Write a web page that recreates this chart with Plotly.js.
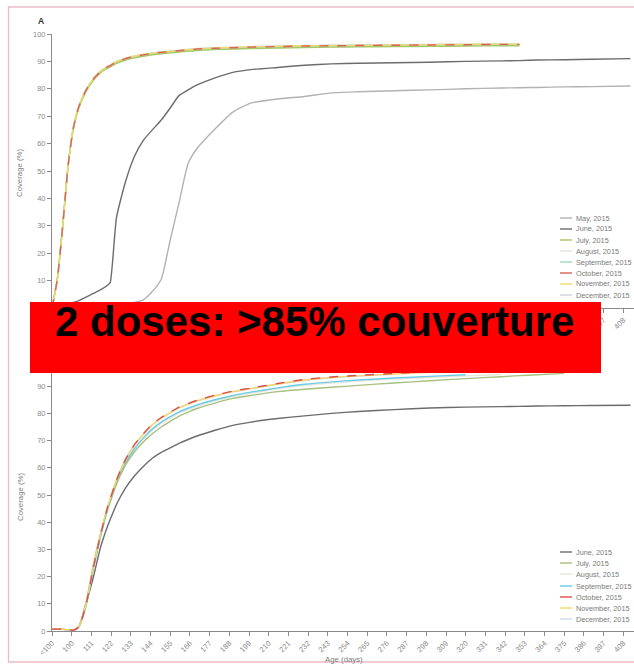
<!DOCTYPE html>
<html>
<head>
<meta charset="utf-8">
<script src="https://cdn.plot.ly/plotly-3.0.1.min.js"></script>
<style>html,body{margin:0;padding:0;background:#fff;}#chart{width:634px;height:666px;}</style>
</head>
<body>
<div id="chart"></div>
<script>
// ---------------- DATA ----------------
var ages = [89, 92, 95, 98, 101, 104, 108, 112, 116, 120, 121.5, 125, 130, 135, 140, 145, 150, 155, 160, 165, 170, 180, 190, 200, 215, 230, 245, 260, 280, 300, 320, 340, 350, 360, 375, 390, 412];

var ageTickVals = [89,100,111,122,133,144,155,166,177,188,199,210,221,232,243,254,265,276,287,298,309,320,331,342,353,364,375,386,397,408];
var ageTickText = ["<100","100","111","122","133","144","155","166","177","188","199","210","221","232","243","254","265","276","287","298","309","320","331","342","353","364","375","386","397","408"];

var coverageTicks = [0,10,20,30,40,50,60,70,80,90,100];

// Panel A (first dose)
var mayA  = [0,0,0,0,0,0,0,0,0,0.2,0.3,0.6,1.2,2,3,6,10.5,24.8,38.6,52.7,58.2,65.3,71.5,74.8,76.3,77.2,78.5,78.9,79.3,79.6,80,80.3,80.4,80.5,80.7,80.8,81];
var juneA = [0,0.3,1,1.5,2,2.7,4,5.3,6.6,8.3,9.3,33,46,55.3,61.2,65,68.6,73,77.6,79.6,81.4,84,86,87,87.8,88.6,89.1,89.3,89.5,89.7,90,90.2,90.3,90.5,90.6,90.8,91];
var julyA = [0,11,30.5,52,65.5,73,79,83,85.8,87.5,88,89.3,90.5,91.3,91.9,92.4,92.8,93.1,93.4,93.7,94,94.3,94.5,94.7,94.9,95.1,95.2,95.3,95.4,95.5,95.6,95.7,95.7,null,null,null,null];
var augA  = [0,10.6,30.2,52,65.8,73.3,79.2,83.2,86,87.7,88.3,89.5,90.7,91.5,92.1,92.6,93,93.3,93.6,93.9,94.2,94.5,94.7,94.9,95.1,95.3,95.4,95.5,95.6,95.7,95.8,95.9,95.9,null,null,null,null];
var sepA  = [0,10.5,30,52,66,73.5,79.4,83.4,86.2,87.9,88.4,89.7,90.9,91.7,92.3,92.8,93.2,93.5,93.8,94.1,94.4,94.7,94.9,95.1,95.3,95.5,95.6,95.7,95.8,95.9,96,96.1,96.1,null,null,null,null];
var octA  = [0,10.5,30,52,66,73.5,79.5,83.5,86.3,88,88.5,89.8,91,91.8,92.4,92.9,93.3,93.6,93.9,94.2,94.5,94.8,95,95.2,95.4,95.6,95.7,95.8,95.9,96,96.1,96.2,96.2,null,null,null,null];
var novA  = [0,10.4,29.8,52,66.2,73.7,79.6,83.6,86.4,88.1,88.6,89.9,91.1,91.9,92.5,93,93.4,93.7,94,94.3,94.6,94.9,95.1,95.3,95.5,95.7,95.8,95.9,96,96.1,96.2,96.3,96.3,null,null,null,null];
var decA  = [0,10.3,29.6,51.8,66.2,73.8,79.7,83.7,86.5,88.2,88.7,90,91.2,92,92.6,93.1,93.5,93.8,94.1,94.4,94.7,95,95.2,95.4,95.6,95.8,95.9,96,96.1,96.2,96.3,96.4,96.4,null,null,null,null];

// Panel B (second dose)
var juneB = [0.7,0.7,0.6,0.5,0.3,1.5,10,19.5,30.5,38.5,41,46.5,52.5,57,60.5,63.5,65.7,67.3,69,70.4,71.7,73.8,75.6,76.8,78.1,79.1,80,80.7,81.4,82,82.3,82.5,82.6,82.7,82.8,82.9,83];
var julyB = [0.7,0.7,0.6,0.5,0.3,1.8,10.5,24,35.5,45,47.8,54,61,65.8,69.5,72.5,75,77.1,79,80.5,81.8,83.8,85.5,86.6,88,88.9,89.6,90.3,91.2,92,92.8,93.5,93.9,94.2,94.7,null,null];
var augB  = [0.7,0.7,0.6,0.5,0.3,1.6,9.6,23,34.6,44.6,47.4,54.2,61.5,66.6,70.5,73.8,76.3,78.3,80.1,81.4,82.6,84.6,86.2,87.4,89,90.3,91.2,91.9,92.6,93.2,93.8,94.3,null,null,null,null,null];
var sepB  = [0.7,0.7,0.6,0.5,0.3,1.5,9.2,22.5,34.3,44.5,47.5,54.3,61.7,67,71,74.3,76.8,78.8,80.6,81.9,83.1,85,86.6,87.8,89.4,90.7,91.6,92.3,93,93.6,94.2,null,null,null,null,null,null];
var octB  = [0.7,0.7,0.6,0.5,0.3,1.5,9.5,23,35,45.5,48.5,55.5,63,68.5,72.5,76,78.5,80.5,82.3,83.6,84.8,86.7,88.2,89.3,91,92.5,93.4,94,94.7,95.3,96,null,null,null,null,null,null];
var novB  = [0.7,0.7,0.6,0.5,0.3,1.6,9.8,23.3,35.3,45.7,48.7,55.6,63,68.4,72.3,75.8,78.3,80.3,82.1,83.4,84.6,86.5,88,89.1,90.8,92.3,93.2,93.8,94.5,95.1,null,null,null,null,null,null,null];
var decB  = [0.7,0.7,0.6,0.5,0.3,1.5,9.6,23.1,35.1,45.6,48.6,55.4,62.8,68.2,72.2,75.7,78.2,80.2,82,83.3,84.5,86.4,87.9,89,90.7,92.2,93.1,93.7,94.4,null,null,null,null,null,null,null,null];

var monthNamesA = ["May, 2015","June, 2015","July, 2015","August, 2015","September, 2015","October, 2015","November, 2015","December, 2015"];
var monthNamesB = ["June, 2015","July, 2015","August, 2015","September, 2015","October, 2015","November, 2015","December, 2015"];

// ---------------- STYLE ----------------
var colorsA = {"May, 2015":"#b2b2b2","June, 2015":"#6c6c6c","July, 2015":"#a6c866","August, 2015":"#e4e4d6","September, 2015":"#a4dcc2","October, 2015":"#d9625e","November, 2015":"#efdc6c","December, 2015":"#cdd2dc"};
var colorsB = {"June, 2015":"#6c6c6c","July, 2015":"#a8bf7e","August, 2015":"#e6e6dc","September, 2015":"#6ccbe6","October, 2015":"#dd4f4c","November, 2015":"#f5d468","December, 2015":"#d2daee"};

var W = 634, H = 666;
function px(x){ return x / W; }
function py(y){ return 1 - y / H; }

var seriesA = {"May, 2015":mayA,"June, 2015":juneA,"July, 2015":julyA,"August, 2015":augA,"September, 2015":sepA,"October, 2015":octA,"November, 2015":novA,"December, 2015":decA};
var seriesB = {"June, 2015":juneB,"July, 2015":julyB,"August, 2015":augB,"September, 2015":sepB,"October, 2015":octB,"November, 2015":novB,"December, 2015":decB};

var drawOrderA = ["May, 2015","June, 2015","August, 2015","December, 2015","September, 2015","July, 2015","November, 2015","October, 2015"];
var drawOrderB = ["June, 2015","August, 2015","December, 2015","September, 2015","July, 2015","November, 2015","October, 2015"];

var traces = [];
drawOrderA.forEach(function(n){
  traces.push({x: ages, y: seriesA[n], name: n, type: 'scatter', mode: 'lines', xaxis: 'x', yaxis: 'y',
    showlegend: false, connectgaps: false,
    line: {color: colorsA[n], width: 1.4, shape: 'spline', smoothing: 0.5, dash: n === "October, 2015" ? 'dash' : 'solid'}});
});
drawOrderB.forEach(function(n){
  traces.push({x: ages, y: seriesB[n], name: n, type: 'scatter', mode: 'lines', xaxis: 'x2', yaxis: 'y2',
    showlegend: false, connectgaps: false,
    line: {color: colorsB[n], width: 1.4, shape: 'spline', smoothing: 0.5, dash: n === "October, 2015" ? 'dash' : 'solid'}});
});

var tickFont = {family: 'Liberation Sans, Arial, sans-serif', size: 7.5, color: '#8a8a8a'};
var xRange = [89, 89 + (634 - 52) * 11 / 19.7];

function xAxis(anchor){
  return {domain: [px(52), 1], range: xRange, anchor: anchor, tickmode: 'array',
    tickvals: ageTickVals, ticktext: ageTickText, tickangle: -45, ticks: 'outside', ticklen: 4,
    tickcolor: '#8a8a8a', tickwidth: 1, showline: true, linecolor: '#8a8a8a', linewidth: 1,
    showgrid: false, zeroline: false, tickfont: tickFont, fixedrange: true};
}
function yAxis(anchor, d0, d1){
  return {domain: [d0, d1], range: [0, 100], anchor: anchor, tickmode: 'array',
    tickvals: coverageTicks, ticks: 'outside', ticklen: 4, tickcolor: '#8a8a8a', tickwidth: 1,
    showline: true, linecolor: '#8a8a8a', linewidth: 1, showgrid: false, zeroline: false,
    tickfont: tickFont, fixedrange: true};
}

var shapes = [];
var annotations = [];

// frame
shapes.push({type: 'rect', xref: 'paper', yref: 'paper', x0: px(8.5), x1: 1.05, y0: py(662), y1: py(7),
  line: {color: '#ebbcc6', width: 1.3}, fillcolor: 'rgba(0,0,0,0)', layer: 'above'});

// legends (manual, as in the figure)
var legFont = {family: 'Liberation Sans, Arial, sans-serif', size: 7.3, color: '#7a7a7a'};
var rowsA = [218, 229, 240, 251, 262, 273, 284, 295];
monthNamesA.forEach(function(n, i){
  shapes.push({type: 'line', xref: 'paper', yref: 'paper', x0: px(560), x1: px(572), y0: py(rowsA[i]), y1: py(rowsA[i]),
    line: {color: colorsA[n], width: 1.4}});
  annotations.push({xref: 'paper', yref: 'paper', x: px(574), y: py(rowsA[i]), xanchor: 'left', yanchor: 'middle',
    text: n, showarrow: false, font: legFont});
});
var rowsB = [552, 563, 574, 586, 597, 608, 619];
monthNamesB.forEach(function(n, i){
  shapes.push({type: 'line', xref: 'paper', yref: 'paper', x0: px(560), x1: px(572), y0: py(rowsB[i]), y1: py(rowsB[i]),
    line: {color: colorsB[n], width: 1.4}});
  annotations.push({xref: 'paper', yref: 'paper', x: px(574), y: py(rowsB[i]), xanchor: 'left', yanchor: 'middle',
    text: n, showarrow: false, font: legFont});
});

// banner
shapes.push({type: 'rect', xref: 'paper', yref: 'paper', x0: px(30), x1: px(601), y0: py(373), y1: py(302),
  fillcolor: '#ff0000', line: {width: 0}, layer: 'above'});
annotations.push({xref: 'paper', yref: 'paper', x: px(314), y: py(321), xanchor: 'center', yanchor: 'middle',
  text: '<b>2 doses: &gt;85% couverture</b>', showarrow: false,
  font: {family: 'Liberation Sans, Arial, sans-serif', size: 42, color: '#000000'}});

// panel letter and axis titles
annotations.push({xref: 'paper', yref: 'paper', x: px(40.5), y: py(21.5), xanchor: 'center', yanchor: 'middle',
  text: '<b>A</b>', showarrow: false, font: {family: 'Liberation Sans, Arial, sans-serif', size: 8.5, color: '#333'}});
var titleFont = {family: 'Liberation Sans, Arial, sans-serif', size: 7.8, color: '#7e7e7e'};
annotations.push({xref: 'paper', yref: 'paper', x: px(20), y: py(173), textangle: -90, xanchor: 'center', yanchor: 'middle',
  text: 'Coverage (%)', showarrow: false, font: titleFont});
annotations.push({xref: 'paper', yref: 'paper', x: px(20), y: py(497), textangle: -90, xanchor: 'center', yanchor: 'middle',
  text: 'Coverage (%)', showarrow: false, font: titleFont});
annotations.push({xref: 'paper', yref: 'paper', x: px(344), y: py(659), xanchor: 'center', yanchor: 'middle',
  text: 'Age (days)', showarrow: false, font: titleFont});

var layout = {
  width: W, height: H,
  margin: {l: 0, r: 0, t: 0, b: 0, pad: 0},
  paper_bgcolor: '#ffffff', plot_bgcolor: '#ffffff',
  showlegend: false,
  font: {family: 'Liberation Sans, Arial, sans-serif'},
  xaxis: xAxis('y'),
  yaxis: yAxis('x', py(308), py(34)),
  xaxis2: xAxis('y2'),
  yaxis2: yAxis('x2', py(631), py(359)),
  shapes: shapes,
  annotations: annotations
};

Plotly.newPlot('chart', traces, layout, {staticPlot: true, displayModeBar: false});
</script>
</body>
</html>
